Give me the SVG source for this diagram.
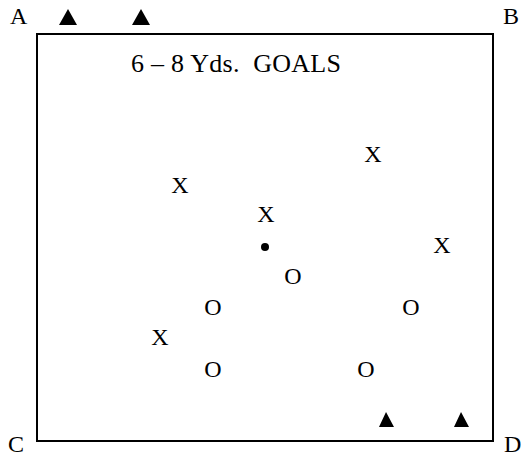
<svg xmlns="http://www.w3.org/2000/svg" width="524" height="458" viewBox="0 0 524 458" font-family="'Liberation Serif', 'Times New Roman', Times, 'DejaVu Serif', 'Noto Serif', serif">
<style>
text{font-family:"Liberation Serif","Times New Roman",Times,"DejaVu Serif","Noto Serif",serif;font-size:24px;fill:#000}
.m{text-anchor:middle}
.tri{fill:#000}
</style>
<rect x="0" y="0" width="524" height="458" fill="#fff"/>
<g id="field"><rect x="37" y="34" width="456" height="407" fill="none" stroke="#000" stroke-width="2"/></g>
<g id="corners">
<text x="10" y="24">A</text>
<text x="503" y="24">B</text>
<text x="8" y="452">C</text>
<text x="504" y="452">D</text>
</g>
<g id="goals">
<polygon class="tri" points="68,9 77,25 59,25"/>
<polygon class="tri" points="141,9 150,25 132,25"/>
<polygon class="tri" points="386,412 394,427 379,427"/>
<polygon class="tri" points="461,412 469,427 454,427"/>
</g>
<g id="title"><text x="131" y="72" xml:space="preserve" style="white-space:pre;font-size:26px" textLength="210" lengthAdjust="spacing">6 – 8 Yds.  GOALS</text></g>
<g id="players">
<text class="m" x="373" y="162">X</text>
<text class="m" x="180" y="193">X</text>
<text class="m" x="266" y="222">X</text>
<text class="m" x="442" y="253">X</text>
<text class="m" x="160" y="345">X</text>
<text class="m" x="293" y="284">O</text>
<text class="m" x="213" y="315">O</text>
<text class="m" x="411" y="315">O</text>
<text class="m" x="213" y="377">O</text>
<text class="m" x="366" y="377">O</text>
</g>
<g id="ball"><circle cx="265" cy="247" r="4" fill="#000"/></g>
</svg>
